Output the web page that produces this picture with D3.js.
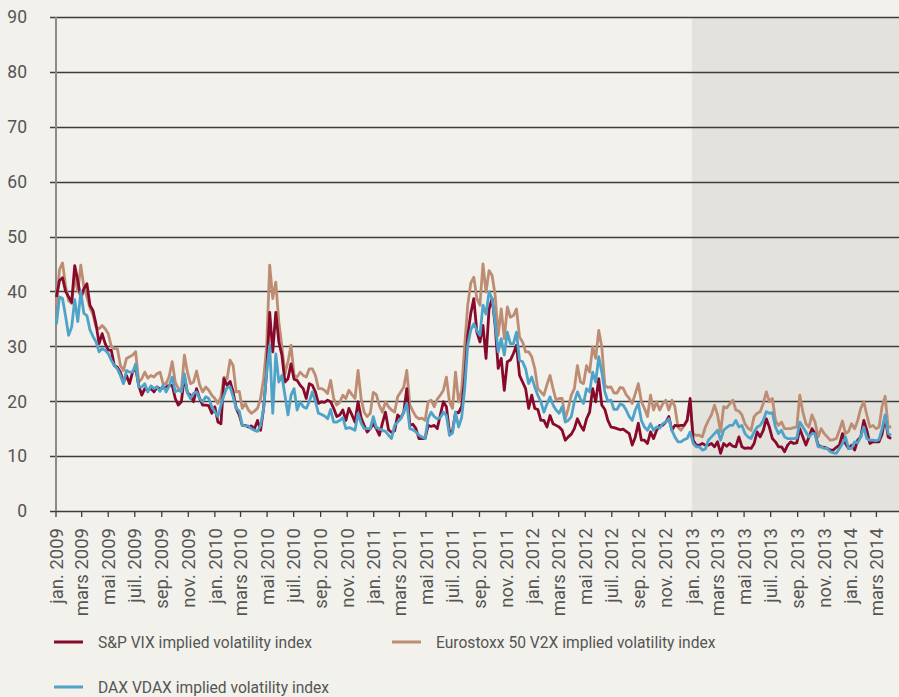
<!DOCTYPE html>
<html>
<head>
<meta charset="utf-8">
<script src="https://cdn.jsdelivr.net/npm/d3@7"></script>
<style>
  html, body { margin: 0; padding: 0; background: #f2f1eb; }
  svg { display: block; }
  text { font-family: Roboto, "DejaVu Sans", sans-serif; fill: #555; }
</style>
</head>
<body>
<svg id="chart" width="899" height="697"></svg>
<script>
// ---- data (weekly, first week ending 2 Jan 2009) ----
const startDate = "2009-01-02";
const monthNames = ["jan.", "févr.", "mars", "avr.", "mai", "juin", "juil.", "août", "sep.", "oct.", "nov.", "déc."];
const yTicks = [0, 10, 20, 30, 40, 50, 60, 70, 80, 90];
const shadeStart = "2013-01-01";
const seriesNames = ["S&P VIX implied volatility index", "Eurostoxx 50 V2X implied volatility index", "DAX VDAX implied volatility index"];

const vix = [
39,42,42.5,40,39,38,44.7,42,38.7,40.5,41.4,37.5,36.5,34,30.5,32.3,30.5,29.3,29.3,26.5,
26.2,25.3,23.5,24.7,23.2,25.3,26,22.9,21.1,22.3,22,22.3,21.7,22.6,22.2,22.4,22.6,22.9,22.9,20.5,
19.3,19.9,24.5,21.5,21.1,19.9,22.3,20.5,19.3,19.3,19.2,17.8,19,16.2,15.9,24.1,22.9,23.6,21.7,18.7,
17.5,15.6,15.6,15.3,15.5,15,16.5,14.7,18.7,25.3,36.2,29,36.2,30.8,28.4,23.5,24.1,26.8,24,23.8,
22.9,22.3,20.5,23.2,22.9,21.7,19.6,19.9,19.8,20.2,19.9,18.7,17.2,17.5,18.4,16.5,18.7,17.5,16.2,19.9,
17,15.6,14.4,15,15.9,15,13.8,16,18,14.8,14.3,14.6,17.5,16.9,18,22.3,15.6,15.8,15,13.2,
13.2,13.2,15.6,15.4,15.6,15,17.5,19.9,19,14.4,14.6,18,17.9,19,24,32,36,38.7,32.6,30.8,
33.8,27.8,36.8,38.7,33.8,26,27.8,22,27.2,27.5,28.7,30.2,24.7,23.5,22.3,18.7,21.1,18.7,18.5,16.5,
16.5,15.3,17.4,15.9,15.6,15.3,14.7,12.9,13.5,14,15,16.8,15.6,14.7,16.8,18,22.3,19.9,24.1,19.3,
18.5,16.5,15.3,15.2,15,14.8,14.9,14.5,14.1,12,13.5,16,12.9,12.9,12.3,14.4,13.2,14.7,15.6,15.6,
16.2,17.2,14.7,15.6,15.5,15.6,15.6,16.5,20.5,12.9,12,12,12.3,12,12,12.3,11.7,12.6,10.5,12.3,
11.8,12.3,11.8,11.7,13.5,11.7,11.4,11.5,11.4,12.3,14.4,13.5,14.7,16.8,15.3,13.2,12.6,11.7,11.7,10.8,
12,12.6,12.3,12.4,15,13.5,12,13.5,15,14.1,12,11.7,11.6,11.4,11.1,11.1,11.6,12,14.1,12.3,
11.4,12,11.1,12.9,13.5,16.5,14.7,12.3,12.6,12.6,12.6,14,17.2,13.5,13.2
];

const v2x = [
37.5,44,45.2,41,38.3,37.8,42.8,40,44.8,40.8,39,37,35.8,33.5,33.2,33.8,33.2,32.3,30,29.6,
29.6,26.5,25.6,27.8,28.1,28.4,29,23.5,24.1,25.3,24.2,24.7,24.4,25,25.3,23.2,23.2,24.5,27.2,23.5,
22.3,22,28.4,25.3,23.2,23.5,25.5,23,21.7,22.6,22,21.1,20.5,19.6,20.8,24.4,24,27.5,26.5,21.7,
21.8,18.7,19.6,18.4,17.8,18.2,18.7,20.5,24.1,30,44.8,38.7,41.7,34.4,30,25,27.2,30.2,24.7,24.4,
25.3,24.7,24.4,25.9,25.9,24.7,22.3,22.3,22,21.4,23.8,20.5,19.3,19.8,21.1,20.5,22,21.2,20.5,25.6,
20.5,18,17.2,17.8,21.6,21.2,19.2,18,19.9,19,18.4,18,20.8,21.7,22.6,25.6,19.3,18.2,17.2,16.8,
16.9,16.5,19.9,20.2,19,20.4,21.1,22,24.4,19.9,18.7,25.3,19.9,22,30.2,37.5,41.5,42.6,38.7,37.5,
45,39.9,43.8,42.9,39.3,32,36.8,31.4,37.2,35.3,35.6,36.8,31.7,30.8,29,29,28.1,26,22.3,21.7,
21.1,23,24.7,22.3,20.2,20.5,20.5,16.8,18.7,21.1,22.3,26.5,23.5,23.2,26.5,25.3,29.9,27.8,32.9,29.9,
22.9,22.5,22.6,21.5,21.5,22.5,22.4,21.2,20.5,19.6,21.4,23.2,19.9,18.7,17.2,21.1,18.4,19.9,18.4,19.5,
20.2,18.4,20.2,19,15.3,14.7,15.5,16.5,19,14.1,13.8,13.8,13.5,15.3,16.5,17.5,19.3,17.5,14.4,19,
18.8,19.5,20.2,18.4,18.2,17.5,15.9,15.1,14.7,17.2,17.8,18.1,19.6,21.7,19.9,20.5,16.5,15.6,16.2,15,
15,15,15.2,15.3,21.1,18,15.9,15.3,17.5,16.2,13.5,15,14.1,13.5,12.9,13,13.2,14.7,16.4,14.1,
14.5,15.9,15,16.5,18.7,19.9,17.5,15.3,15.6,15,15.3,19,20.9,15.3,15.3
];

const vdax = [
34,39,38.7,35.5,32,33.5,38.5,34.5,40,36,35.6,33,31.8,30.8,29,29.6,29.3,28.7,27.5,26.5,
25.9,24.7,23.2,25.6,25.3,25.3,26.8,22.6,22.6,23.2,21.7,22.8,22.3,22.6,21.8,22.9,21.7,22.8,24.4,21.7,
22,21.7,25,21.5,20.5,21.4,21.7,20.5,19.9,20.8,20.5,19,18.1,17.2,19.3,21.1,22.5,22.6,20.8,18.7,
18.2,15.6,15.5,15.5,15,14.7,14.5,15.6,18.7,25.3,30.2,17.8,28.6,23.5,24.7,21.1,17.5,21.1,22.3,18.4,
19.9,19,18.7,19.9,21.7,20,17.8,17.6,17.3,16.8,18.5,16.2,16.2,16.5,17,15,15.2,15,14.7,17.8,
16,15,15,15,17.2,15.2,15,14.7,14.5,13.8,13.2,15.6,16.2,16.8,18,19.6,15,14.8,14.4,13.8,
13.5,13.2,16.8,18,17.2,16.8,17,18,17.4,13.8,14.2,18,15.3,17,22.3,30.2,33,34.1,32.9,32,
37.5,35.9,39.9,38.7,34.4,29,31.4,28.4,32.6,30.5,30.5,32.6,27.5,27.2,25.9,23.2,24.4,22.6,21.1,19.9,
18,19.5,20.8,19.3,18.4,17.8,19,16.2,16.5,17.2,19.9,21.7,20.4,19.6,22.3,21.7,25.3,23.5,28.1,25.3,
21.7,20,20.2,18.5,18.5,19.5,19.3,18.4,17.2,16.5,18.4,19.6,16.5,15.3,14.7,15.9,14.7,15.3,15.1,15.9,
16.2,16.8,14.7,13.5,12.6,12.6,13,13.2,14.4,12.3,11.7,11.7,11.1,11.3,12.9,13.5,14.1,14.7,12.9,14.7,
15.2,15.6,15.6,16.5,15.3,15.6,14.1,13.5,13.2,14.4,15.3,15.6,16.5,18.1,17.8,17.9,15.3,14.1,14.7,13.5,
13.2,13.2,13.2,13.3,16.2,15.3,14.4,13.5,14.1,14.1,11.7,11.7,11.4,11.4,10.8,10.6,10.5,11.4,12.3,13.5,
11.4,11.4,12.6,12.4,13.5,15.3,13.2,12.9,12.9,12.8,13,15,17.5,14.1,13.8
];

// ---- layout ----
const W = 899, H = 697;
const padL = 56, padR = 899, padT = 17, padB = 511;
const colors = { vix: "#870a2c", v2x: "#bd8d73", vdax: "#4fa3c9" };

const svg = d3.select("#chart");
svg.append("rect").attr("width", W).attr("height", H).attr("fill", "#f2f1eb");

const parse = d3.timeParse("%Y-%m-%d");
const start = parse(startDate);
const dates = vix.map((_, i) => d3.timeDay.offset(start, 7 * i));

const x = d3.scaleTime()
  .domain([new Date(2009, 0, 1), new Date(2014, 3, 15)])
  .range([padL, 896]);
const y = d3.scaleLinear().domain([0, 90]).range([padB, padT]);

// shaded zone
svg.append("rect")
  .attr("x", x(parse(shadeStart)))
  .attr("y", padT)
  .attr("width", padR - x(parse(shadeStart)))
  .attr("height", padB - padT)
  .attr("fill", "#e3e2dc");

// gridlines (with short left tick)
svg.append("g").selectAll("line").data(yTicks).join("line")
  .attr("x1", 50).attr("x2", padR)
  .attr("y1", d => Math.round(y(d)) + 0.5).attr("y2", d => Math.round(y(d)) + 0.5)
  .attr("stroke", "#3d3d3d").attr("stroke-width", 1.3);

// y labels
svg.append("g").selectAll("text").data(yTicks).join("text")
  .attr("x", 27).attr("y", d => y(d))
  .attr("dy", "0.36em")
  .attr("text-anchor", "end")
  .style("font-size", "17.5px")
  .text(d => d);

// y axis line
svg.append("line")
  .attr("x1", padL).attr("x2", padL).attr("y1", padT).attr("y2", padB)
  .attr("stroke", "#8a8a8a").attr("stroke-width", 2);

// x axis ticks & labels
const xTicks = x.ticks(d3.timeMonth.every(2)).filter(d => d >= new Date(2009, 0, 1));
const gx = svg.append("g");
gx.selectAll("line").data(xTicks).join("line")
  .attr("x1", d => x(d)).attr("x2", d => x(d))
  .attr("y1", padB).attr("y2", padB + 6)
  .attr("stroke", "#3d3d3d").attr("stroke-width", 1.3);
gx.selectAll("text").data(xTicks).join("text")
  .attr("transform", d => `translate(${x(d)},${padB + 17}) rotate(-90)`)
  .attr("dy", "0.36em")
  .attr("text-anchor", "end")
  .style("font-size", "18.5px")
  .text(d => monthNames[d.getMonth()] + " " + d.getFullYear());

// lines
const line = d3.line().x((d, i) => x(dates[i])).y(d => y(d));
const series = [
  { key: "v2x", values: v2x },
  { key: "vix", values: vix },
  { key: "vdax", values: vdax }
];
svg.append("g").selectAll("path").data(series).join("path")
  .attr("d", d => line(d.values))
  .attr("fill", "none")
  .attr("stroke", d => colors[d.key])
  .attr("stroke-width", 2.8)
  .attr("stroke-linejoin", "round");

// legend
const legendItems = [
  { name: seriesNames[0], color: colors.vix, lx: 54, ly: 642 },
  { name: seriesNames[1], color: colors.v2x, lx: 392, ly: 642 },
  { name: seriesNames[2], color: colors.vdax, lx: 54, ly: 687 }
];
const lg = svg.append("g").selectAll("g").data(legendItems).join("g")
  .attr("transform", d => `translate(${d.lx},${d.ly})`);
lg.append("line").attr("x1", 0).attr("x2", 29).attr("y1", 0).attr("y2", 0)
  .attr("stroke", d => d.color).attr("stroke-width", 3);
lg.append("text").attr("x", 44).attr("dy", "0.36em")
  .style("font-size", "15.6px")
  .text(d => d.name);
</script>
</body>
</html>
